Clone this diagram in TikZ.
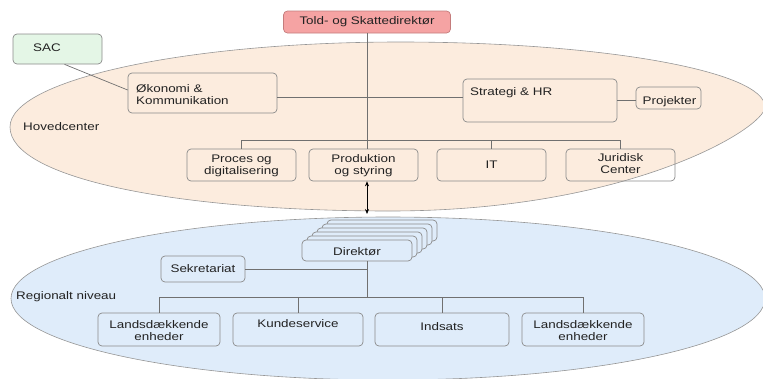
\documentclass[tikz,border=0pt]{standalone}
\usepackage{fontspec}
\setmainfont{Liberation Sans}[FakeStretch=1.22]
\usetikzlibrary{arrows.meta,calc}
\definecolor{peach}{HTML}{FCECDE}
\definecolor{lblue}{HTML}{DFECFA}
\definecolor{sacg}{HTML}{E4F6E6}
\definecolor{pinkf}{HTML}{F5A3A3}
\definecolor{pinkd}{HTML}{C47C7C}
\definecolor{bord}{HTML}{8A8A8A}
\definecolor{conn}{HTML}{707070}
\definecolor{txtc}{HTML}{222222}
\begin{document}
\begin{tikzpicture}[x=1pt,y=-1pt,
  box/.style={draw=bord, line width=0.7pt, rounded corners=4pt, rectangle, inner sep=0pt,
    font=\fontsize{11}{12}\selectfont, text=txtc, align=center},
  lbl/.style={font=\fontsize{11}{12}\selectfont, text=txtc, inner sep=0pt, align=center},
  conline/.style={draw=conn, line width=0.7pt},
  zone/.style={draw=bord!90, line width=0.6pt}]
\useasboundingbox (0,0) rectangle (763,378);
% zones
\draw[zone, fill=peach] (10,127) .. controls (10,80) and (185,42) .. (400,42)
  .. controls (601,42) and (765,71) .. (765,107)
  .. controls (765,128) and (630,211) .. (390,211)
  .. controls (170,211) and (10,177) .. (10,127) -- cycle;
\draw[zone, fill=lblue] (388,298.5) ellipse [x radius=377, y radius=81.5];
\node[lbl, anchor=west] (hc) at (23,127) {Hovedcenter};
\node[lbl, anchor=west] (rn) at (16,297) {Regionalt niveau};
% top level
\node[box, fill=pinkf, draw=pinkd, minimum width=167pt, minimum height=22pt] (top) at (367,22) {Told- og Skattedirektør};
\node[box, fill=sacg, minimum width=89pt, minimum height=30pt] (sac) at (57.5,49) {};
\node[lbl, anchor=west] (sact) at (33,48) {SAC};
\node[box, minimum width=149pt, minimum height=40pt] (oek) at (202.5,93) {};
\node[lbl, anchor=west, align=left] (oekt) at (136,95) {Økonomi \&\\Kommunikation};
\node[box, minimum width=154pt, minimum height=43pt] (strat) at (540,100.5) {};
\node[lbl, anchor=west] (stratt) at (470,93) {Strategi \& HR};
\node[box, minimum width=65pt, minimum height=22pt] (proj) at (668.5,98) {};
\node[lbl] (projt) at (669.5,102) {Projekter};
\node[box, minimum width=109pt, minimum height=32pt] (proces) at (241.5,165) {};
\node[lbl] (procest) at (241.5,166) {Proces og\\digitalisering};
\node[box, minimum width=109pt, minimum height=32pt] (prod) at (363.5,165) {};
\node[lbl] (prodt) at (363.5,166) {Produktion\\og styring};
\node[box, minimum width=109pt, minimum height=32pt] (it) at (491.5,165) {};
\node[lbl] (itt) at (491.5,165) {IT};
\node[box, minimum width=109pt, minimum height=32pt] (jur) at (620.5,165) {};
\node[lbl] (jurt) at (620.5,164) {Juridisk\\Center};
% connectors top
\coordinate (hl) at (0,97);
\coordinate (sacl) at (0,90);
\coordinate (bus) at (0,140);
\draw[conline] ($(sac.south)+(7,0)$) -- (oek.west |- sacl);
\draw[conline] (oek.east |- hl) -- (strat.west |- hl);
\draw[conline] ($(strat.east)+(0,-0.5)$) -- ($(strat.east -| proj.west)+(0,-0.5)$);
\draw[conline] (top.south) -- (top.south |- prod.north);
\draw[conline] (proces.north) |- (jur.north |- bus) -- (jur.north);
\draw[conline] (it.north) -- (it.north |- bus);
% regional
\foreach \k in {5,4,3,2,1} {
  \node[box, fill=lblue, minimum width=110pt, minimum height=21pt] (dir\k) at (357+5*\k,250.5-4*\k) {};
}
\node[box, fill=lblue, minimum width=110pt, minimum height=21pt] (dir) at (357,250.5) {};
\node[lbl] (dirt) at (357,252) {Direktør};
\coordinate (arrend) at (367,214);
\draw[black, line width=0.6pt, {Stealth[length=5pt,width=4pt]}-{Stealth[length=5pt,width=4pt]}] (top.south |- prod.south) -- (arrend);
\node[box, minimum width=84pt, minimum height=26pt] (sek) at (203,269) {Sekretariat};
\node[box, minimum width=122pt, minimum height=33pt] (l1) at (159,329.5) {};
\node[lbl] (l1t) at (159,330.5) {Landsdækkende\\enheder};
\node[box, minimum width=130pt, minimum height=33pt] (ks) at (298,329.5) {};
\node[lbl] (kst) at (298,324) {Kundeservice};
\node[box, minimum width=134pt, minimum height=33pt] (ind) at (442,329.5) {};
\node[lbl] (indt) at (442,327) {Indsats};
\node[box, minimum width=122pt, minimum height=33pt] (l2) at (583,329.5) {};
\node[lbl] (l2t) at (583,330.5) {Landsdækkende\\enheder};
\coordinate (bus2) at (0,297);
\draw[conline] (top.south |- dir.south) -- (top.south |- bus2);
\draw[conline] (sek.east) -- (sek.east -| top.south);
\draw[conline] (l1.north) |- (l2.north |- bus2) -- (l2.north);
\draw[conline] (ks.north) -- (ks.north |- bus2);
\draw[conline] (ind.north) -- (ind.north |- bus2);
\end{tikzpicture}
\end{document}
